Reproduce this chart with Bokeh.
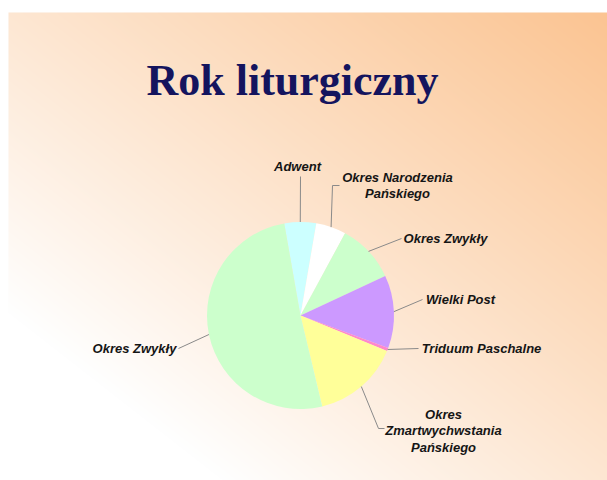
import numpy as np
from bokeh.plotting import figure
from bokeh.models import Range1d
from bokeh.core.properties import value
from bokeh.embed import file_html
from bokeh.resources import INLINE

# ---- data -------------------------------------------------------------
periods = ["Adwent", "Okres Narodzenia\nPańskiego", "Okres Zwykły", "Wielki Post",
           "Triduum Paschalne", "Okres\nZmartwychwstania\nPańskiego", "Okres Zwykły"]
days = [20, 19, 37, 46, 2, 55, 186]
colors = ["#ccffff", "#ffffff", "#ccffcc", "#cc99ff", "#ff88cc", "#ffff99", "#ccffcc"]
title_text = "Rok liturgiczny"

# ---- layout (screen pixel coordinates; data y = 480 - screen y) --------
W, H = 607, 480
PAGE_H = 480
cx, cy = 300, 315          # pie centre (px)
R = 93.5
start_offset = -10.0       # degrees clockwise from 12 o'clock where first slice starts

label_pos = [(297, 166), (397, 185), (445, 238), (460, 299), (481, 348), (443, 430), (134, 348)]
leader_via = [
    [(300, 176)],
    [(332, 185), (339, 185)],
    [(401, 238)],
    [(422, 299)],
    [(418, 348)],
    [(378, 428), (384, 428)],
    [(178, 348)],
]

def dy(py):
    return PAGE_H - py

p = figure(width=W, height=H, output_backend="svg", toolbar_location=None,
           x_range=Range1d(0, W), y_range=Range1d(dy(H), dy(0)),
           min_border=0)
p.axis.visible = False
p.grid.visible = False
p.outline_line_color = None
p.background_fill_color = "white"
p.border_fill_color = "white"

# ---- background gradient ---------------------------------------------
GX0, GY0 = 8, 12
GW, GH = W - GX0, H - GY0
xs = (np.arange(GW) + 0.5) / GW
ys_page = GY0 + np.arange(GH)[::-1] + 0.5   # row 0 is bottom
v = (ys_page - GY0) / GH
U, V = np.meshgrid(xs, v)
t = (U + (1 - V)) / 2.0
t = np.clip((t - 0.18) / 0.82, 0, 1) ** 0.95
orange = np.array([251, 196, 146])
img = np.empty((GH, GW), dtype=np.uint32)
view = img.view(dtype=np.uint8).reshape((GH, GW, 4))
for k in range(3):
    view[:, :, k] = (255 * (1 - t) + orange[k] * t).astype(np.uint8)
view[:, :, 3] = 255
p.image_rgba(image=[img], x=GX0, y=dy(H), dw=GW, dh=GH)

# ---- pie ---------------------------------------------------------------
vals = np.array(days, dtype=float)
deg = vals / vals.sum() * 360.0
cum = np.concatenate([[0], np.cumsum(deg)]) + start_offset
th1, th2 = cum[:-1], cum[1:]
start_angle = np.radians(90 - th2)
end_angle = np.radians(90 - th1)
p.wedge(x=[cx] * len(vals), y=[dy(cy)] * len(vals), radius=R,
        start_angle=start_angle, end_angle=end_angle,
        fill_color=colors, line_color=None)

# ---- leader lines ------------------------------------------------------
mid = np.radians((th1 + th2) / 2)
for i in range(len(vals)):
    ex = cx + R * np.sin(mid[i])
    ey = dy(cy) + R * np.cos(mid[i])
    lx = [ex] + [pt[0] for pt in leader_via[i]]
    ly = [ey] + [dy(pt[1]) for pt in leader_via[i]]
    p.line(lx, ly, line_color="#8a8a8a", line_width=1)

# ---- labels ------------------------------------------------------------
p.text(x=[pt[0] for pt in label_pos], y=[dy(pt[1]) for pt in label_pos], text=periods,
       text_font=value("Liberation Sans"), text_font_style="bold italic",
       text_font_size="13px", text_color="#151515", text_align="center",
       text_baseline="middle", text_line_height=1.1)

# ---- title -------------------------------------------------------------
p.text(x=[292], y=[dy(80)], text=[title_text], text_font=value("Liberation Serif"),
       text_font_style="bold", text_font_size="44px", text_color="#14145e",
       text_align="center", text_baseline="alphabetic")

open("out.html", "w").write(file_html(p, INLINE))
